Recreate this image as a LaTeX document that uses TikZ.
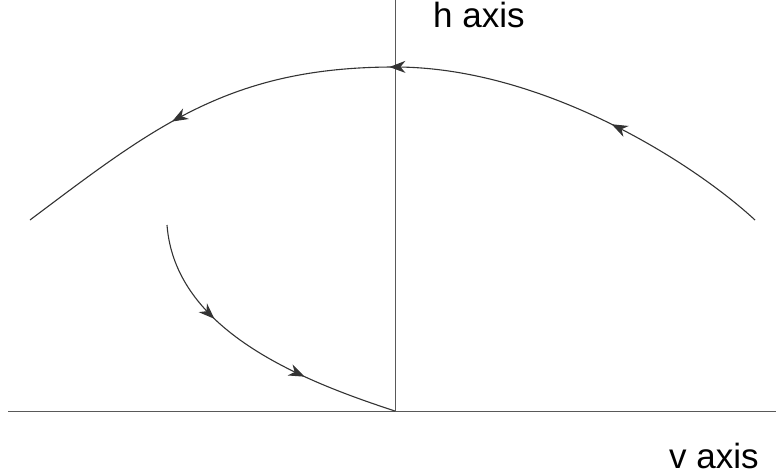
\documentclass[tikz,border=0pt]{standalone}
\usepackage{fontspec}
\setmainfont{Liberation Sans}
\usetikzlibrary{positioning, arrows.meta, decorations.markings}

\tikzset{
  axisline/.style={line width=1pt, draw=black!65},
  flowline/.style={line width=1.1pt, draw=black!80},
  flowtip/.style={-{Stealth[length=12pt, width=9pt, inset=4pt]}},
  axislabel/.style={font=\fontsize{35}{38}\selectfont, anchor=base west, inner sep=0pt}
}

\begin{document}
\begin{tikzpicture}[x=1pt, y=-1pt]
  \useasboundingbox (0,0) rectangle (776,476);
  % axes
  \coordinate (vtop) at (395,0);
  \coordinate (origin) at (395,411);
  \coordinate (hleft) at (8,411);
  \coordinate (hright) at (776,411);
  \draw[axisline] (vtop) -- (origin);
  \draw[axisline] (hleft) -- (hright);
  \node[axislabel] (hlabel) at (433,28) {h axis};
  \node[axislabel] (vlabel) at (669,468) {v axis};
  % arch, running right to left
  \coordinate (archright) at (755,220);
  \coordinate (archtop) at (395,67);
  \coordinate (archleft) at (30,220);
  \draw[flowline, decoration={markings,
      mark=at position 0.215 with {\arrow[black!80]{Stealth[length=16pt, width=12pt, inset=5pt]}},
      mark=at position 0.503 with {\arrow[black!80]{Stealth[length=16pt, width=12pt, inset=5pt]}},
      mark=at position 0.785 with {\arrow[black!80]{Stealth[length=16pt, width=12pt, inset=5pt]}}},
    postaction={decorate}]
    (archright) .. controls (690,160) and (540,67) .. (archtop)
    .. controls (230,67) and (155,126) .. (archleft);
  % trajectory into the origin
  \coordinate (trackstart) at (167,225);
  \draw[flowline, decoration={markings,
      mark=at position 0.345 with {\arrow[black!80]{Stealth[length=16pt, width=12pt, inset=5pt]}},
      mark=at position 0.69 with {\arrow[black!80]{Stealth[length=16pt, width=12pt, inset=5pt]}}},
    postaction={decorate}]
    (trackstart) .. controls (175,330) and (300,380) .. (origin);
\end{tikzpicture}
\end{document}
